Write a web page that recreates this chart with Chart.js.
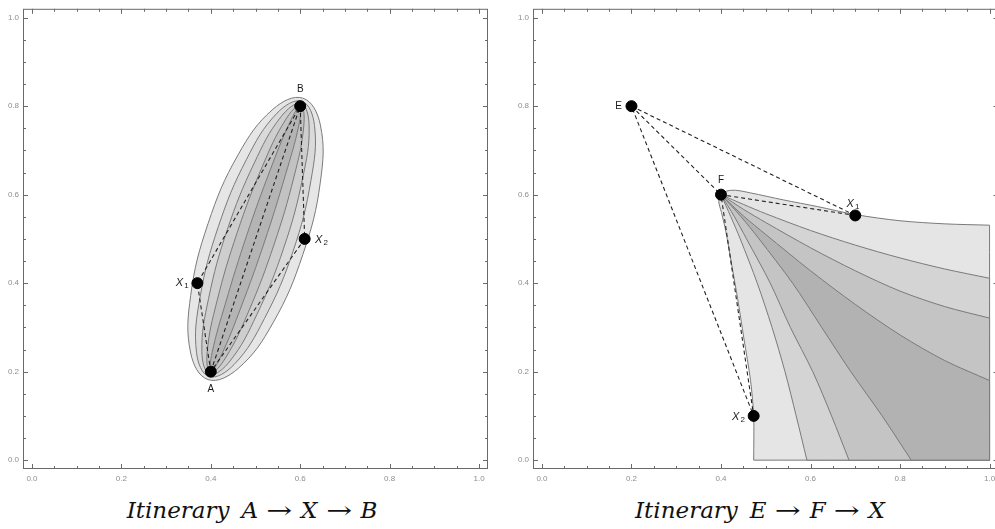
<!DOCTYPE html>
<html>
<head>
<meta charset="utf-8">
<script src="https://cdn.jsdelivr.net/npm/chart.js@4.4.0/dist/chart.umd.min.js"></script>
<style>
  html, body { margin: 0; padding: 0; background: #fff; overflow: hidden; }
  #wrap { position: relative; width: 995px; height: 529px; overflow: hidden; }
  canvas { position: absolute; top: 0; }
  #leftChart { left: 0; }
  #rightChart { left: 510px; }
  .title {
    position: absolute; top: 499px; line-height: 23px;
    font-family: "DejaVu Serif", "Liberation Serif", serif; font-size: 23px;
    color: #111; white-space: nowrap; transform: translateX(-50%);
  }
  .title i { font-style: italic; }
  .title .ar { display: inline-block; width: 43px; text-align: center; font-style: normal; }
  .title .ar span { display: inline-block; transform: scaleX(1.35); }
  .title .gap { display: inline-block; width: 12px; }
</style>
</head>
<body>
<div id="wrap">
  <canvas id="leftChart" width="495" height="490"></canvas>
  <canvas id="rightChart" width="495" height="490"></canvas>
  <div class="title" style="left:252px"><i>Itinerary</i><span class="gap"></span><i>A</i><span class="ar"><span>→</span></span><i>X</i><span class="ar"><span>→</span></span><i>B</i></div>
  <div class="title" style="left:760px"><i>Itinerary</i><span class="gap"></span><i>E</i><span class="ar"><span>→</span></span><i>F</i><span class="ar"><span>→</span></span><i>X</i></div>
</div>
<script>
// axis ticks
const majorTicks = [0.0, 0.2, 0.4, 0.6, 0.8, 1.0];
const minorTicks = [0.05, 0.1, 0.15, 0.25, 0.3, 0.35, 0.45, 0.5, 0.55, 0.65, 0.7, 0.75, 0.85, 0.9, 0.95];

// left panel: itinerary A -> X -> B
const ptA = [0.40, 0.20];
const ptB = [0.60, 0.80];
const ptX1 = [0.37, 0.40];
const ptX2 = [0.61, 0.50];

// nested regions around A-B, outermost first, points going round from the B end
const ellipse1 = [[0.606,0.818],[0.539,0.793],[0.461,0.690],[0.394,0.535],[0.355,0.372],[0.355,0.242],[0.394,0.182],[0.461,0.207],[0.539,0.310],[0.606,0.465],[0.645,0.628],[0.645,0.758]];
const ellipse2 = [[0.604,0.811],[0.548,0.784],[0.480,0.680],[0.417,0.528],[0.376,0.368],[0.368,0.244],[0.396,0.189],[0.452,0.216],[0.520,0.320],[0.584,0.472],[0.624,0.632],[0.632,0.756]];
const ellipse3 = [[0.602,0.806],[0.557,0.776],[0.497,0.671],[0.437,0.521],[0.395,0.365],[0.380,0.245],[0.398,0.194],[0.443,0.224],[0.503,0.329],[0.563,0.479],[0.605,0.635],[0.620,0.755]];
const ellipse4 = [[0.601,0.803],[0.567,0.769],[0.515,0.663],[0.459,0.514],[0.414,0.360],[0.392,0.245],[0.399,0.197],[0.433,0.231],[0.485,0.337],[0.541,0.486],[0.586,0.640],[0.608,0.755]];
const ellipse5 = [[0.600,0.801],[0.577,0.764],[0.533,0.656],[0.480,0.507],[0.433,0.355],[0.403,0.243],[0.400,0.199],[0.423,0.236],[0.467,0.344],[0.520,0.493],[0.567,0.645],[0.597,0.757]];

// right panel: itinerary E -> F -> X
const ptE = [0.20, 0.80];
const ptF = [0.40, 0.60];
const ptY1 = [0.70, 0.553];
const ptY2 = [0.473, 0.10];

// region edges, each running away from F
const fanTop = [[0.400,0.600],[0.412,0.608],[0.432,0.610],[0.466,0.604],[0.540,0.588],[0.616,0.573],[0.700,0.555],[0.800,0.541],[0.900,0.534],[1.000,0.531]];
const fanLeft = [[0.400,0.600],[0.395,0.585],[0.401,0.560],[0.411,0.516],[0.424,0.441],[0.437,0.366],[0.451,0.276],[0.466,0.180],[0.473,0.100],[0.473,0.000]];
const regionCorner = [1.0, 0.0];
const contour1 = [[0.400,0.600],[0.450,0.578],[0.500,0.557],[0.600,0.519],[0.700,0.486],[0.800,0.457],[0.900,0.432],[1.000,0.411]];
const contour2 = [[0.400,0.600],[0.450,0.567],[0.500,0.537],[0.600,0.480],[0.700,0.428],[0.800,0.382],[0.900,0.347],[1.000,0.321]];
const contour3 = [[0.400,0.600],[0.450,0.552],[0.500,0.510],[0.600,0.428],[0.700,0.352],[0.800,0.283],[0.900,0.225],[1.000,0.180]];
const contour4 = [[0.400,0.600],[0.445,0.550],[0.485,0.500],[0.560,0.400],[0.625,0.300],[0.690,0.200],[0.760,0.100],[0.825,0.000]];
const contour5 = [[0.400,0.600],[0.430,0.550],[0.457,0.500],[0.510,0.400],[0.555,0.300],[0.605,0.200],[0.647,0.100],[0.686,0.000]];
const contour6 = [[0.400,0.600],[0.422,0.550],[0.443,0.500],[0.481,0.400],[0.514,0.300],[0.543,0.200],[0.568,0.100],[0.592,0.000]];

const toXY = arr => arr.map(p => ({ x: p[0], y: p[1] }));
const EDGE = '#7a7a7a';
const NONE = 'rgba(0,0,0,0)';

// closed smooth loop: wrap one point on each side so the joint has neighbours,
// then hide the two wrap segments
function loopRegion(points, color, order) {
  const n = points.length;
  const pts = [points[n - 1], ...points, points[0], points[1]];
  const last = pts.length - 1;
  const pick = c => (ctx => (ctx.p0DataIndex === 0 || ctx.p1DataIndex === last) ? NONE : c);
  return {
    data: toXY(pts), showLine: true, fill: 'shape', tension: 0.4,
    backgroundColor: color, borderColor: EDGE, borderWidth: 1,
    segment: { borderColor: pick(EDGE), backgroundColor: pick(color) },
    pointRadius: 0, order: order
  };
}

// fan band: upper edge out to x = 1, down the right side, along y = 0, back up the lower edge
function fanRegion(upper, lower, color, order) {
  const back = lower.slice().reverse();
  const pts = [...upper, upper[upper.length - 1], regionCorner, regionCorner, back[0], ...back];
  return {
    data: toXY(pts), showLine: true, fill: 'shape', tension: 0.3,
    backgroundColor: color, borderColor: EDGE, borderWidth: 1,
    pointRadius: 0, order: order
  };
}
function dashed(points) {
  return {
    data: toXY(points), showLine: true, fill: false, tension: 0,
    borderColor: '#222', borderWidth: 1.1, borderDash: [4, 3],
    pointRadius: 0, order: 1
  };
}
function dots(points) {
  return {
    data: toXY(points), showLine: false, pointRadius: 5.5,
    pointBackgroundColor: '#000', pointBorderColor: '#000', order: 0
  };
}

// frame with inward ticks on all four sides
const frameTicks = {
  id: 'frameTicks',
  afterDatasetsDraw(chart) {
    const { ctx, chartArea: a, scales: { x, y } } = chart;
    ctx.save();
    ctx.strokeStyle = '#6a6a6a';
    ctx.lineWidth = 1;
    ctx.strokeRect(a.left + 0.5, a.top + 0.5, a.right - a.left - 1, a.bottom - a.top - 1);
    ctx.beginPath();
    const mark = (vals, len) => vals.forEach(v => {
      const px = Math.round(x.getPixelForValue(v)) + 0.5;
      const py = Math.round(y.getPixelForValue(v)) + 0.5;
      ctx.moveTo(px, a.bottom); ctx.lineTo(px, a.bottom - len);
      ctx.moveTo(px, a.top); ctx.lineTo(px, a.top + len);
      ctx.moveTo(a.left, py); ctx.lineTo(a.left + len, py);
      ctx.moveTo(a.right, py); ctx.lineTo(a.right - len, py);
    });
    mark(minorTicks, 3);
    mark(majorTicks, 5);
    ctx.stroke();
    ctx.restore();
  }
};

// point names next to the dots
const pointNames = {
  id: 'pointNames',
  afterDatasetsDraw(chart, args, opts) {
    const { ctx, scales: { x, y } } = chart;
    ctx.save();
    ctx.fillStyle = '#1a1a1a';
    ctx.textAlign = 'center';
    ctx.textBaseline = 'middle';
    opts.items.forEach(it => {
      const px = x.getPixelForValue(it.at[0]) + it.dx;
      const py = y.getPixelForValue(it.at[1]) + it.dy;
      if (it.sub) {
        ctx.font = 'italic 11px "Liberation Sans", sans-serif';
        ctx.fillText(it.text, px - 3, py);
        ctx.font = '8px "Liberation Sans", sans-serif';
        ctx.fillText(it.sub, px + 4, py + 3);
      } else {
        ctx.font = '10px "Liberation Sans", sans-serif';
        ctx.fillText(it.text, px, py);
      }
    });
    ctx.restore();
  }
};

function makeChart(id, datasets, labels, padRight) {
  const tickFont = { size: 8, family: '"Liberation Sans", sans-serif' };
  return new Chart(document.getElementById(id), {
    type: 'scatter',
    data: { datasets },
    options: {
      responsive: false,
      animation: false,
      events: [],
      layout: { padding: { top: 5, right: padRight, left: 0, bottom: 0 } },
      plugins: {
        legend: { display: false },
        tooltip: { enabled: false },
        pointNames: { items: labels }
      },
      scales: {
        x: {
          type: 'linear', min: -0.02, max: 1.02,
          afterBuildTicks: s => { s.ticks = majorTicks.map(v => ({ value: v })); },
          afterFit: s => { s.height = 21; },
          grid: { display: false, drawTicks: false },
          border: { display: false },
          ticks: { color: '#8e8e8e', font: tickFont, padding: 5, maxRotation: 0, autoSkip: false,
                   callback: v => v.toFixed(1) }
        },
        y: {
          type: 'linear', min: -0.02, max: 1.02,
          afterBuildTicks: s => { s.ticks = majorTicks.map(v => ({ value: v })); },
          afterFit: s => { s.width = 23; },
          grid: { display: false, drawTicks: false },
          border: { display: false },
          ticks: { color: '#8e8e8e', font: tickFont, padding: 4, autoSkip: false,
                   callback: v => v.toFixed(1) }
        }
      }
    },
    plugins: [frameTicks, pointNames]
  });
}

makeChart('leftChart', [
  loopRegion(ellipse1, '#e6e6e6', 10),
  loopRegion(ellipse2, '#dadada', 9),
  loopRegion(ellipse3, '#cecece', 8),
  loopRegion(ellipse4, '#c2c2c2', 7),
  loopRegion(ellipse5, '#b4b4b4', 6),
  dashed([ptA, ptX1, ptB, ptX2, ptA]),
  dashed([ptA, ptB]),
  dots([ptA, ptB, ptX1, ptX2])
], [
  { text: 'A', at: ptA, dx: 0, dy: 18 },
  { text: 'B', at: ptB, dx: 0, dy: -17 },
  { text: 'X', sub: '1', at: ptX1, dx: -15, dy: 0 },
  { text: 'X', sub: '2', at: ptX2, dx: 17, dy: 1 }
], 7);

makeChart('rightChart', [
  fanRegion(fanTop, fanLeft, '#e5e5e5', 10),
  fanRegion(contour1, contour6, '#d4d4d4', 9),
  fanRegion(contour2, contour5, '#c4c4c4', 8),
  fanRegion(contour3, contour4, '#b2b2b2', 7),
  dashed([ptY1, ptE, ptY2, ptF, ptY1]),
  dashed([ptE, ptF]),
  dots([ptE, ptF, ptY1, ptY2])
], [
  { text: 'E', at: ptE, dx: -13, dy: 0 },
  { text: 'F', at: ptF, dx: 0, dy: -14 },
  { text: 'X', sub: '1', at: ptY1, dx: -2, dy: -12 },
  { text: 'X', sub: '2', at: ptY2, dx: -15, dy: 1 }
], 6);
</script>
</body>
</html>
